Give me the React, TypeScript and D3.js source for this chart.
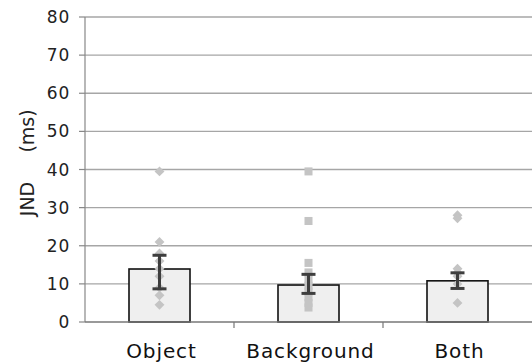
import React from 'react';
import * as d3 from 'd3';

const categories = ['Object', 'Background', 'Both'];
const means = [13.9, 9.7, 10.8];
const errLow = [8.7, 7.5, 8.8];
const errHigh = [17.5, 12.5, 12.9];
const objectPoints = [39.5, 21, 18, 16, 14, 12, 9, 7, 4.5];
const backgroundPoints = [39.5, 26.5, 15.5, 13, 11, 9.5, 8, 6.5, 5, 3.8];
const bothPoints = [28, 27.2, 14, 13, 12, 10, 5];
const yTicks = [0, 10, 20, 30, 40, 50, 60, 70, 80];

const pointSets = [objectPoints, backgroundPoints, bothPoints];
const shapes = ['diamond', 'square', 'diamond'];

const App = () => {
    const width = 532;
    const height = 364;
    const left = 85, right = 532, top = 17, bottom = 322;

    const x = d3.scaleBand().domain(categories).range([left, right]).paddingInner(0).paddingOuter(0);
    const y = d3.scaleLinear().domain([0, 80]).range([bottom, top]);
    const bw = 61;

    const diamond = d3.symbol().type(d3.symbolDiamond2).size(62)();
    const square = d3.symbol().type(d3.symbolSquare2).size(82)();

    return (
        <svg width={width} height={height}
             style={{position: 'absolute', left: 0, top: 0, background: '#fff'}}>
            {yTicks.map(t => (
                <g key={t}>
                    {t > 0 && <line x1={left} x2={right} y1={y(t)} y2={y(t)} stroke="#a6a6a6" strokeWidth={1.3}/>}
                    <line x1={left - 6} x2={left} y1={y(t)} y2={y(t)} stroke="#888" strokeWidth={1.2}/>
                    <text x={70} y={y(t)} dy="0.36em" textAnchor="end"
                          fontFamily="DejaVu Sans, sans-serif" fontSize={17} letterSpacing={0.8} fill="#222">{t}</text>
                </g>
            ))}
            <line x1={left} x2={left} y1={top} y2={bottom} stroke="#888" strokeWidth={1.2}/>
            {categories.map((c, i) => {
                const cx = x(c)! + x.bandwidth() / 2;
                return (
                    <g key={c}>
                        <rect x={cx - bw / 2} y={y(means[i])} width={bw} height={bottom - y(means[i])}
                              fill="#efefef" stroke="#111" strokeWidth={1.6}/>
                        {pointSets[i].map((v, j) => (
                            <path key={j} d={shapes[i] === 'diamond' ? diamond : square}
                                  transform={`translate(${cx},${y(v)})`} fill="#c4c4c4"/>
                        ))}
                        <g stroke="#3e3e3e" strokeWidth={3}>
                            <line x1={cx} x2={cx} y1={y(errHigh[i])} y2={y(errLow[i])}/>
                            <line x1={cx - 7} x2={cx + 7} y1={y(errHigh[i])} y2={y(errHigh[i])}/>
                            <line x1={cx - 7} x2={cx + 7} y1={y(errLow[i])} y2={y(errLow[i])}/>
                        </g>
                        <text x={cx + 2} y={358} textAnchor="middle" fontFamily="DejaVu Sans, sans-serif"
                              fontSize={20} letterSpacing={0.9} fill="#111">{c}</text>
                    </g>
                );
            })}
            <line x1={left} x2={right} y1={bottom} y2={bottom} stroke="#777" strokeWidth={1.3}/>
            {categories.slice(1).map(c => (
                <line key={c} x1={x(c)} x2={x(c)} y1={bottom} y2={bottom + 6} stroke="#777" strokeWidth={1.2}/>
            ))}
            <g fontFamily="DejaVu Sans, sans-serif" fontSize={19} fill="#222" textAnchor="middle">
                <text transform="translate(34,199) rotate(-90)">JND</text>
                <text transform="translate(34,131) rotate(-90)">(ms)</text>
            </g>
        </svg>
    );
};

export default App;
